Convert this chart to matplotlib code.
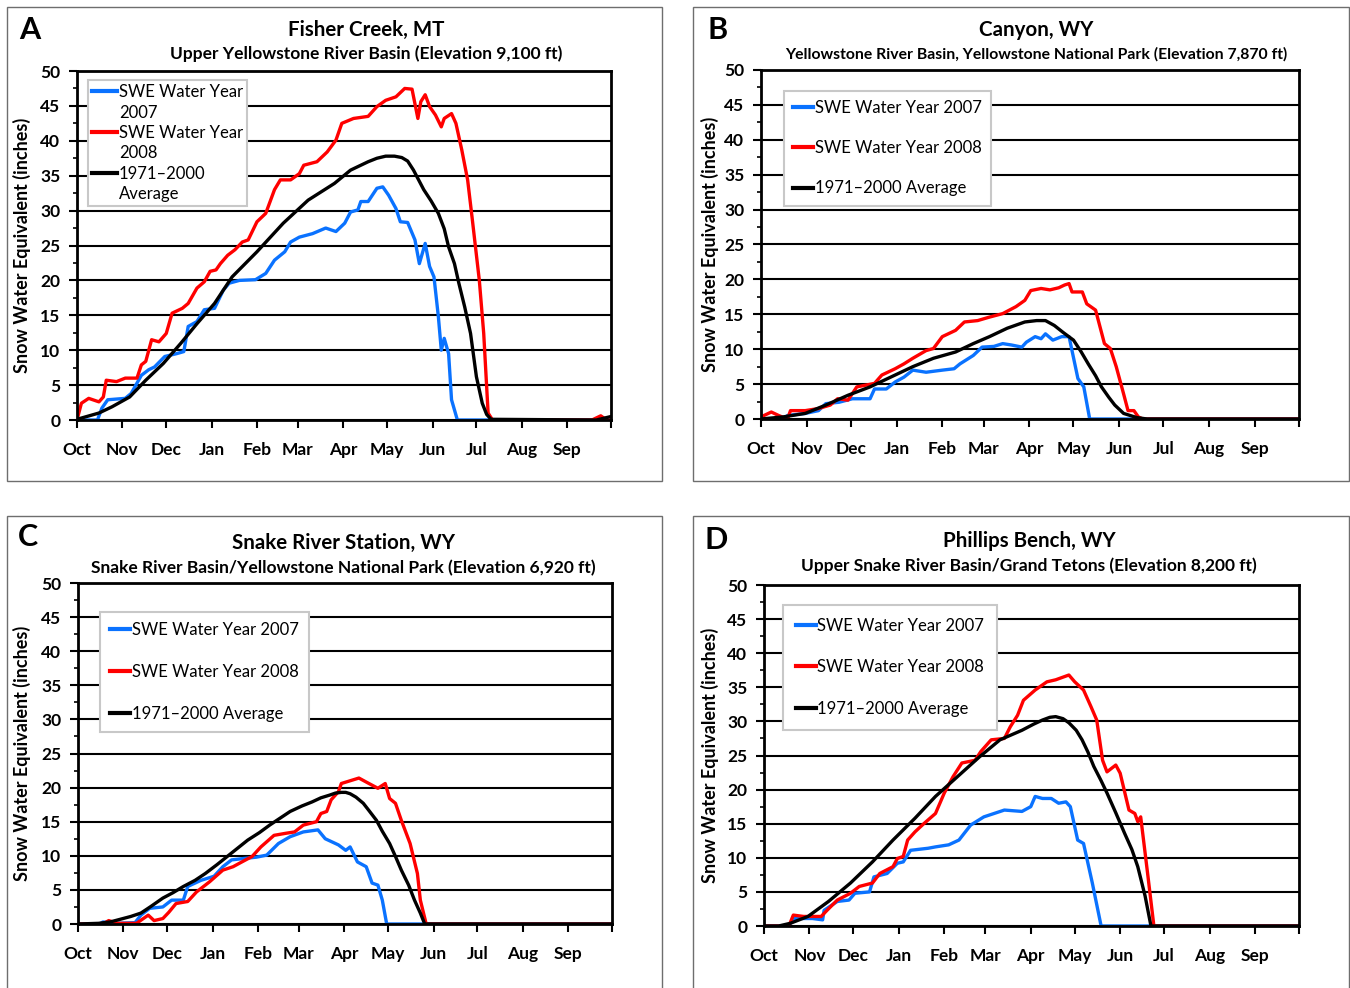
import matplotlib
matplotlib.use('Agg')
import matplotlib.pyplot as plt
from matplotlib.patches import Rectangle
from matplotlib.lines import Line2D
from matplotlib.ticker import MultipleLocator, FixedLocator

plt.rcParams['font.family'] = ['Lato', 'DejaVu Sans']

# month axis (days since Oct 1 of the water year)
month_start = [0, 31, 61, 92, 123, 151, 182, 212, 243, 273, 304, 335, 365]
month_names = ['Oct', 'Nov', 'Dec', 'Jan', 'Feb', 'Mar', 'Apr', 'May', 'Jun', 'Jul', 'Aug', 'Sep', '']

# --- A: Fisher Creek, MT
a_2007_day = [0, 14, 17, 21, 33, 37, 44, 49, 53, 60, 68, 73, 76, 82, 87, 94, 100, 104, 111, 122, 129, 135, 142, 146, 152,
              161, 170, 177, 183, 187, 192, 194, 199, 205, 209, 213, 218, 221, 226, 231, 234, 238, 241, 244, 247, 249,
              251, 254, 256, 260, 365]
a_2007_swe = [0, 0, 1.7, 2.9, 3.1, 3.8, 6.4, 7.2, 7.6, 9.1, 9.5, 9.8, 13.4, 14.1, 15.8, 16, 18.6, 19.6, 20, 20.1, 21, 22.9,
              24.1, 25.5, 26.2, 26.7, 27.5, 27, 28.2, 29.8, 30.1, 31.3, 31.3, 33.2, 33.4, 32.2, 30.3, 28.4, 28.3, 25.8,
              22.4, 25.3, 22, 20.5, 14.8, 10, 11.7, 9.5, 2.9, 0, 0]
a_2008_day = [0, 3, 8, 15, 18, 20, 27, 33, 41, 44, 47, 51, 56, 61, 65, 72, 76, 82, 87, 91, 95, 98, 103, 108, 113, 117, 123,
              129, 135, 139, 146, 152, 155, 164, 171, 177, 181, 189, 199, 205, 211, 218, 224, 229, 233, 235, 238, 241,
              245, 249, 251, 256, 259, 263, 267, 270, 275, 278, 281, 284, 352, 358, 362, 365]
a_2008_swe = [0, 2.4, 3.1, 2.6, 3.3, 5.7, 5.5, 6.0, 6.0, 7.9, 8.4, 11.5, 11.2, 12.4, 15.3, 16, 16.7, 18.9, 19.8, 21.3, 21.5,
              22.4, 23.6, 24.4, 25.5, 25.8, 28.4, 29.6, 33, 34.4, 34.4, 35.3, 36.5, 37, 38.4, 40.1, 42.5, 43.2, 43.5,
              44.9, 45.8, 46.3, 47.5, 47.4, 43.2, 45.6, 46.6, 44.9, 43.7, 42, 43.2, 43.9, 42.5, 38.7, 34.4, 29.1, 20,
              12.4, 1, 0, 0, 0.6, 0, 0]
a_avg_day = [0, 15, 24, 36, 47, 59, 71, 82, 94, 106, 123, 141, 158, 176, 187, 199, 205, 211, 217, 222, 226, 230, 234, 237,
             242, 247, 251, 254, 258, 261, 265, 269, 273, 277, 280, 283, 355, 365]
a_avg_swe = [0.1, 1, 1.9, 3.3, 5.7, 8.1, 11, 13.8, 16.7, 20.5, 24.1, 28.2, 31.5, 33.9, 35.8, 37, 37.5, 37.8, 37.8, 37.6,
             37.1, 35.8, 34.2, 33, 31.4, 29.6, 27.4, 24.8, 22.4, 19.6, 16.2, 12.4, 6.2, 2.4, 0.8, 0.1, 0, 0.5]

# --- B: Canyon, WY
b_2007_day = [0, 15, 18, 30, 39, 44, 53, 62, 74, 77, 85, 91, 97, 103, 112, 123, 131, 135, 144, 150, 158, 164, 170, 177,
              180, 186, 190, 193, 198, 204, 209, 215, 219, 223, 365]
b_2007_swe = [0, 0, 0.5, 0.8, 1.2, 2.2, 2.4, 2.9, 2.9, 4.3, 4.3, 5.3, 6, 7, 6.7, 7, 7.2, 7.9, 9.1, 10.3, 10.4, 10.8, 10.6,
              10.3, 11, 11.8, 11.5, 12.2, 11.3, 11.8, 11.8, 5.8, 4.6, 0, 0]
b_2008_day = [0, 7, 12, 18, 20, 30, 39, 47, 52, 59, 65, 77, 82, 91, 97, 103, 112, 117, 123, 132, 138, 147, 155, 164, 173,
              179, 183, 190, 196, 202, 206, 209, 211, 218, 221, 227, 233, 237, 241, 246, 249, 253, 256, 259, 365]
b_2008_swe = [0.3, 1, 0.5, 0, 1.2, 1.2, 1.5, 2, 2.9, 2.7, 4.6, 5.1, 6.3, 7.2, 7.9, 8.7, 9.8, 10.1, 11.8, 12.7, 13.9, 14.1,
              14.6, 15.1, 16.1, 17, 18.4, 18.7, 18.5, 18.8, 19.2, 19.4, 18.2, 18.2, 16.5, 15.6, 10.8, 10.1, 7.5, 3.6,
              1.2, 1.2, 0.3, 0, 0]
b_avg_day = [0, 15, 30, 44, 59, 74, 88, 103, 117, 132, 144, 155, 167, 179, 187, 193, 199, 205, 212, 217, 222, 227, 231,
             236, 240, 246, 255, 262, 365]
b_avg_swe = [0, 0.3, 0.8, 2, 3.4, 4.6, 6, 7.5, 8.7, 9.6, 10.8, 11.8, 13, 13.9, 14.1, 14.1, 13.4, 12.4, 11.3, 9.7, 7.9,
             6.2, 4.6, 3.1, 2, 0.8, 0.2, 0, 0]

# --- C: Snake River Station, WY
c_2007_day = [0, 15, 17, 26, 39, 43, 49, 58, 64, 72, 75, 84, 93, 99, 105, 113, 122, 129, 137, 145, 154, 164, 169, 178,
              183, 186, 191, 197, 201, 205, 208, 211, 365]
c_2007_swe = [0, 0, 0.3, 0.1, 0.2, 1.3, 2.3, 2.5, 3.5, 3.5, 5.5, 6.4, 7, 8.4, 9.4, 9.6, 9.8, 10.1, 11.8, 12.8, 13.5, 13.8,
              12.5, 11.6, 10.8, 11.3, 9.1, 8.4, 6, 5.7, 3.5, 0, 0]
c_2008_day = [0, 17, 21, 27, 40, 48, 52, 58, 62, 67, 75, 81, 90, 99, 106, 112, 119, 125, 134, 142, 148, 154, 163, 166,
              170, 173, 178, 180, 186, 192, 198, 205, 210, 213, 217, 221, 227, 232, 234, 238, 365]
c_2008_swe = [0, 0, 0.5, 0.1, 0.1, 1.3, 0.5, 0.8, 1.7, 3, 3.3, 4.7, 6.2, 7.9, 8.4, 9.1, 9.9, 11.3, 13, 13.3, 13.5, 14.5,
              15, 16.2, 16.5, 18.2, 19.4, 20.6, 21, 21.4, 20.7, 19.9, 20.6, 18.4, 17.7, 15.2, 11.8, 7.4, 3.5, 0, 0]
c_avg_day = [0, 14, 22, 29, 36, 43, 50, 58, 65, 72, 80, 87, 95, 102, 109, 116, 124, 131, 138, 145, 153, 160, 166, 172,
             176, 180, 183, 186, 190, 195, 199, 204, 208, 213, 217, 221, 226, 230, 234, 237, 365]
c_avg_swe = [0, 0.1, 0.3, 0.7, 1.1, 1.6, 2.6, 3.8, 4.6, 5.5, 6.4, 7.4, 8.7, 9.9, 11.1, 12.3, 13.4, 14.5, 15.5, 16.5, 17.3,
             17.9, 18.5, 18.9, 19.2, 19.3, 19.3, 19.1, 18.6, 17.7, 16.6, 15.2, 13.6, 11.8, 9.9, 7.9, 5.7, 3.5, 1.6, 0,
             0]

# --- D: Phillips Bench, WY
d_2007_day = [0, 17, 20, 33, 40, 41, 50, 58, 62, 72, 75, 84, 91, 95, 100, 112, 117, 126, 133, 141, 150, 157, 164, 176,
              182, 185, 190, 196, 201, 206, 209, 214, 218, 224, 230, 365]
d_2007_swe = [0, 0, 1.1, 1.1, 0.9, 2.3, 3.6, 3.8, 4.8, 5, 7.2, 7.7, 9.2, 9.4, 11.1, 11.4, 11.6, 11.9, 12.6, 14.8, 16, 16.5,
              17, 16.8, 17.5, 19, 18.7, 18.7, 18, 18.2, 17.5, 12.6, 12.1, 6.3, 0, 0]
d_2008_day = [0, 17, 20, 27, 39, 43, 50, 59, 65, 74, 79, 88, 91, 95, 98, 103, 109, 117, 123, 129, 135, 144, 148, 155, 164,
              168, 173, 177, 185, 193, 199, 208, 212, 218, 223, 227, 231, 234, 240, 243, 249, 253, 255, 257, 262, 266, 365]
d_2008_swe = [0, 0, 1.6, 1.4, 1.4, 2.3, 3.8, 4.8, 5.8, 6.3, 7.7, 8.7, 9.9, 10.2, 12.6, 13.8, 15, 16.5, 19.5, 21.9, 23.9,
              24.3, 25.6, 27.3, 27.5, 29.2, 30.9, 33.1, 34.6, 35.8, 36.1, 36.8, 35.8, 34.6, 32.2, 30.2, 24.3, 22.6, 23.6,
              22.4, 17, 16.5, 15.3, 16, 7.2, 0, 0]
d_avg_day = [0, 10, 18, 30, 44, 59, 74, 88, 103, 117, 132, 147, 161, 176, 184, 190, 195, 199, 204, 208, 213, 217, 221,
             225, 230, 234, 240, 246, 251, 255, 260, 264, 365]
d_avg_swe = [0, 0, 0.4, 1.4, 3.6, 6.3, 9.4, 12.6, 15.8, 19, 21.9, 24.8, 27.3, 28.7, 29.6, 30.2, 30.6, 30.7, 30.4, 29.8,
             28.7, 27.3, 25.5, 23.4, 21.3, 19.5, 16.6, 13.6, 11.2, 8.7, 4.4, 0, 0]

labels = ['SWE Water Year 2007', 'SWE Water Year 2008', '1971\u20132000 Average']
colors = ['#0A72FF', '#FF0000', '#000000']

W, H = 1350, 988
fig = plt.figure(figsize=(W / 100, H / 100), dpi=100)


def fx(x):
    return x / W


def fy(y):
    return 1 - y / H


panels = [
    dict(letter='A', title='Fisher Creek, MT', sub='Upper Yellowstone River Basin (Elevation 9,100 ft)', subsize=12.5,
         box=(7, 7, 662, 481), ax=(77, 611, 71, 420), tx=366, ty=(30, 54), lpos=(30, 30), ylx=22,
         series=[(a_2007_day, a_2007_swe), (a_2008_day, a_2008_swe), (a_avg_day, a_avg_swe)],
         leg=(88, 80), lspace=0.26, bpad=0.25),
    dict(letter='B', title='Canyon, WY', sub='Yellowstone River Basin, Yellowstone National Park (Elevation 7,870 ft)',
         subsize=11.3, box=(693, 7, 1349, 481), ax=(761, 1299, 70, 419), tx=1036, ty=(30, 54), lpos=(718, 30),
         ylx=710, series=[(b_2007_day, b_2007_swe), (b_2008_day, b_2008_swe), (b_avg_day, b_avg_swe)],
         leg=(784, 91), lspace=1.45, bpad=0.55),
    dict(letter='C', title='Snake River Station, WY', sub='Snake River Basin/Yellowstone National Park (Elevation 6,920 ft)',
         subsize=12.5, box=(7, 516, 662, 1000), ax=(78, 612, 583, 924), tx=343, ty=(543, 568), lpos=(28, 537),
         ylx=22, series=[(c_2007_day, c_2007_swe), (c_2008_day, c_2008_swe), (c_avg_day, c_avg_swe)],
         leg=(100, 612), lspace=1.55, bpad=0.6),
    dict(letter='D', title='Phillips Bench, WY', sub='Upper Snake River Basin/Grand Tetons (Elevation 8,200 ft)',
         subsize=12.5, box=(693, 516, 1349, 1000), ax=(764, 1299, 585, 926), tx=1029, ty=(541, 566), lpos=(716, 540),
         ylx=710, series=[(d_2007_day, d_2007_swe), (d_2008_day, d_2008_swe), (d_avg_day, d_avg_swe)],
         leg=(783, 605), lspace=1.55, bpad=0.75),
]

for p in panels:
    bl, bt, br, bb = p['box']
    fig.add_artist(Rectangle((fx(bl), fy(bb)), fx(br - bl), (bb - bt) / H, transform=fig.transFigure,
                             fill=False, ec='#6e6e6e', lw=1.0))

    l, r, t, b = p['ax']
    ax = fig.add_axes([fx(l), fy(b), fx(r - l), (b - t) / H])
    for (d, v), c, lab in zip(p['series'], colors, labels):
        ax.plot(d, v, color=c, lw=2.4, label=lab, solid_joinstyle='round')

    ax.set_xlim(0, 365)
    ax.set_ylim(0, 50)
    ax.yaxis.set_major_locator(MultipleLocator(5))
    ax.yaxis.set_minor_locator(MultipleLocator(2.5))
    ax.xaxis.set_major_locator(FixedLocator(month_start))
    ax.set_xticklabels(month_names)
    ax.grid(axis='y', which='major', color='black', lw=1.5)
    ax.set_axisbelow(True)
    for s in ax.spines.values():
        s.set_linewidth(2)
    ax.tick_params(axis='y', which='major', direction='out', length=6, width=1.5, pad=6, labelsize=12.5)
    ax.tick_params(axis='y', which='minor', direction='out', length=3, width=1.2)
    ax.tick_params(axis='x', which='major', direction='out', length=6, width=1.5, pad=10, labelsize=12.5)
    for lab in ax.get_xticklabels() + ax.get_yticklabels():
        lab.set_fontweight('bold')

    if p['letter'] == 'A':
        # narrow legend: labels wrap onto a second row, line sits on the first row
        handles, texts = [], []
        for c, lab in zip(colors, labels):
            head, tail = lab.rsplit(' ', 1) if c != '#000000' else lab.split(' ', 1)
            handles += [Line2D([], [], color=c, lw=3), Line2D([], [], color='none')]
            texts += [head, tail]
        hlen = 1.5
    else:
        handles, texts = ax.get_legend_handles_labels()
        handles = [Line2D([], [], color=h.get_color(), lw=3) for h in handles]
        hlen = 1.2

    leg = ax.legend(handles, texts, loc='upper left',
                    bbox_to_anchor=((p['leg'][0] - l) / (r - l), (b - p['leg'][1]) / (b - t)),
                    borderaxespad=0, fontsize=12, handlelength=hlen, handletextpad=0.1,
                    labelspacing=p['lspace'], borderpad=p['bpad'], fancybox=False,
                    framealpha=1, edgecolor='#c8c8c8')
    leg.get_frame().set_linewidth(1.5)

    fig.text(fx(p['lpos'][0]), fy(p['lpos'][1]), p['letter'], fontsize=22, fontweight='bold',
             ha='center', va='center')
    fig.text(fx(p['tx']), fy(p['ty'][0]), p['title'], fontsize=14.8, fontweight='bold', ha='center', va='center')
    fig.text(fx(p['tx']), fy(p['ty'][1]), p['sub'], fontsize=p['subsize'], fontweight='bold', ha='center',
             va='center')
    fig.text(fx(p['ylx']), fy((t + b) / 2), 'Snow Water Equivalent (inches)', fontsize=13, fontweight='bold',
             rotation=90, ha='center', va='center')

fig.savefig('out.png', dpi=100)
